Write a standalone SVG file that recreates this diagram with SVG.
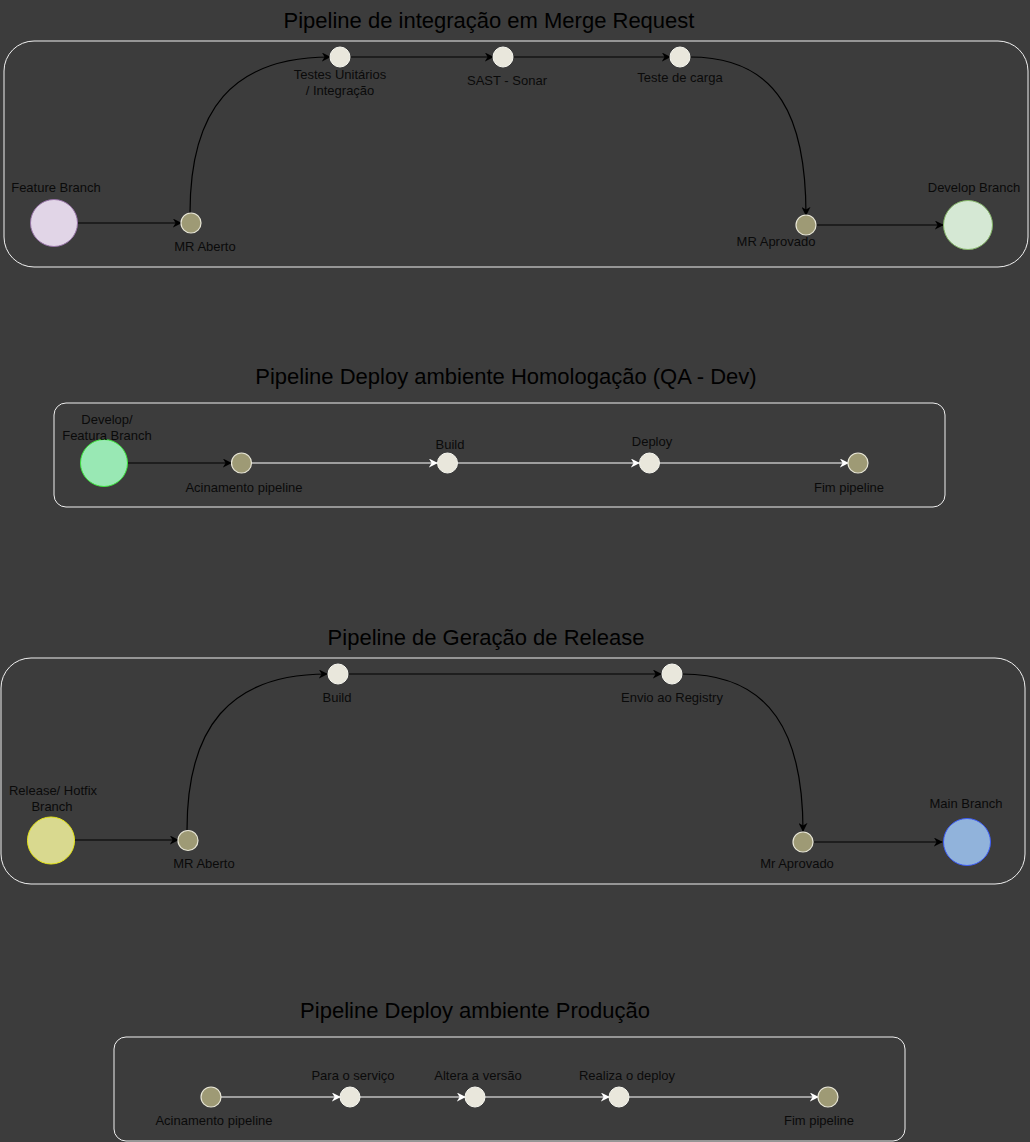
<svg xmlns="http://www.w3.org/2000/svg" width="1030" height="1142" viewBox="0 0 1030 1142">
<style>
.t{font-family:"Liberation Sans",Arial,sans-serif;font-size:22px;fill:#000;text-anchor:middle}
.l{font-family:"Liberation Sans",Arial,sans-serif;font-size:13px;fill:#0a0a0a;text-anchor:middle}
.box{fill:none;stroke:#f0f0f0;stroke-width:1}
.d{fill:#9e9a75;stroke:#e8e6d6;stroke-width:1.2}
.w{fill:#e9e7dc;stroke:#f7f7f0;stroke-width:1}
.eb{fill:none;stroke:#000;stroke-width:1.2;marker-end:url(#ab)}
.ew{fill:none;stroke:#fff;stroke-width:1.2;marker-end:url(#aw)}
</style>
<defs>
<marker id="ab" viewBox="0 0 10 10" refX="9" refY="5" markerWidth="9" markerHeight="9" markerUnits="userSpaceOnUse" orient="auto"><path d="M0,0 L10,5 L0,10 L3,5 z" fill="#000"/></marker>
<marker id="aw" viewBox="0 0 10 10" refX="9" refY="5" markerWidth="9" markerHeight="9" markerUnits="userSpaceOnUse" orient="auto"><path d="M0,0 L10,5 L0,10 L3,5 z" fill="#fff"/></marker>
</defs>
<rect x="0" y="0" width="1030" height="1142" fill="#3c3c3c"/>

<!-- Section 1 -->
<g id="sec1">
<text class="t" x="489" y="28">Pipeline de integração em Merge Request</text>
<rect class="box" x="4" y="41" width="1024" height="226" rx="30"/>
</g>
<g id="connectors1">
<path class="eb" d="M78,223 L181,223"/>
<path class="eb" d="M190,213 C190,110 232,57 330,57"/>
<path class="eb" d="M350,57 L493,57"/>
<path class="eb" d="M513,57 L670,57"/>
<path class="eb" d="M690,57 C780,57 806,120 806,215"/>
<path class="eb" d="M816,225 L943,225"/>
</g>
<g id="n-feature"><circle cx="54" cy="223" r="23.5" fill="#e1d5e7" stroke="#9673a6"/><text class="l" x="56" y="192">Feature Branch</text></g>
<g id="n-mraberto1"><circle class="d" cx="191" cy="223" r="10"/><text class="l" x="205" y="251">MR Aberto</text></g>
<g id="n-testes"><circle class="w" cx="340" cy="57" r="10"/><text class="l" x="340" y="79">Testes Unitários</text><text class="l" x="340" y="95">/ Integração</text></g>
<g id="n-sast"><circle class="w" cx="503" cy="57" r="10"/><text class="l" x="507" y="85">SAST - Sonar</text></g>
<g id="n-carga"><circle class="w" cx="680" cy="57" r="10"/><text class="l" x="680" y="82">Teste de carga</text></g>
<g id="n-mraprov1"><circle class="d" cx="806" cy="225" r="10"/><text class="l" x="776" y="246">MR Aprovado</text></g>
<g id="n-develop"><circle cx="968" cy="225" r="24.5" fill="#d5e8d4" stroke="#82b366"/><text class="l" x="974" y="192">Develop Branch</text></g>

<!-- Section 2 -->
<g id="sec2">
<text class="t" x="506" y="384">Pipeline Deploy ambiente Homologação (QA - Dev)</text>
<rect class="box" x="54" y="403" width="891" height="104" rx="12"/>
</g>
<g id="connectors2">
<path class="eb" d="M127,463 L231,463"/>
<path class="ew" d="M252,463 L437,463"/>
<path class="ew" d="M458,463 L639,463"/>
<path class="ew" d="M660,463 L848,463"/>
</g>
<g id="n-devfeat"><circle cx="104" cy="463" r="23.5" fill="#99e8b4" stroke="#3ee23e"/><text class="l" x="107" y="424">Develop/</text><text class="l" x="107" y="440">Featura Branch</text></g>
<g id="n-acin2"><circle class="d" cx="241.5" cy="463" r="10"/><text class="l" x="244" y="492">Acinamento pipeline</text></g>
<g id="n-build2"><circle class="w" cx="447.5" cy="463" r="10"/><text class="l" x="450" y="449">Build</text></g>
<g id="n-deploy2"><circle class="w" cx="649.5" cy="463" r="10"/><text class="l" x="652" y="446">Deploy</text></g>
<g id="n-fim2"><circle class="d" cx="858" cy="463" r="10"/><text class="l" x="849" y="492">Fim pipeline</text></g>

<!-- Section 3 -->
<g id="sec3">
<text class="t" x="486" y="645">Pipeline de Geração de Release</text>
<rect class="box" x="1" y="658" width="1024" height="226" rx="30"/>
</g>
<g id="connectors3">
<path class="eb" d="M75,840 L178,840"/>
<path class="eb" d="M187,830 C187,728 229,674 327,674"/>
<path class="eb" d="M348,674 L661,674"/>
<path class="eb" d="M682,674 C772,674 803,735 803,831"/>
<path class="eb" d="M814,842 L942,842"/>
</g>
<g id="n-release"><circle cx="51" cy="840.5" r="23.5" fill="#d9d98f" stroke="#e8e817"/><text class="l" x="53" y="795">Release/ Hotfix</text><text class="l" x="52" y="811">Branch</text></g>
<g id="n-mraberto3"><circle class="d" cx="188" cy="840.5" r="10"/><text class="l" x="204" y="868">MR Aberto</text></g>
<g id="n-build3"><circle class="w" cx="338" cy="674" r="10"/><text class="l" x="337" y="702">Build</text></g>
<g id="n-registry"><circle class="w" cx="672" cy="674" r="10"/><text class="l" x="672" y="702">Envio ao Registry</text></g>
<g id="n-mraprov3"><circle class="d" cx="803" cy="842" r="10"/><text class="l" x="797" y="868">Mr Aprovado</text></g>
<g id="n-main"><circle cx="967" cy="842" r="23.5" fill="#91b3db" stroke="#3d5cf5"/><text class="l" x="966" y="808">Main Branch</text></g>

<!-- Section 4 -->
<g id="sec4">
<text class="t" x="475" y="1018">Pipeline Deploy ambiente Produção</text>
<rect class="box" x="114" y="1037" width="791" height="104" rx="12"/>
</g>
<g id="connectors4">
<path class="ew" d="M221,1097 L340,1097"/>
<path class="ew" d="M360,1097 L465,1097"/>
<path class="ew" d="M485,1097 L609,1097"/>
<path class="ew" d="M629,1097 L818,1097"/>
</g>
<g id="n-acin4"><circle class="d" cx="211" cy="1097" r="10"/><text class="l" x="214" y="1125">Acinamento pipeline</text></g>
<g id="n-para"><circle class="w" cx="350" cy="1097" r="10"/><text class="l" x="353" y="1080">Para o serviço</text></g>
<g id="n-altera"><circle class="w" cx="475" cy="1097" r="10"/><text class="l" x="478" y="1080">Altera a versão</text></g>
<g id="n-realiza"><circle class="w" cx="619" cy="1097" r="10"/><text class="l" x="627" y="1080">Realiza o deploy</text></g>
<g id="n-fim4"><circle class="d" cx="828" cy="1097" r="10"/><text class="l" x="819" y="1125">Fim pipeline</text></g>
</svg>
